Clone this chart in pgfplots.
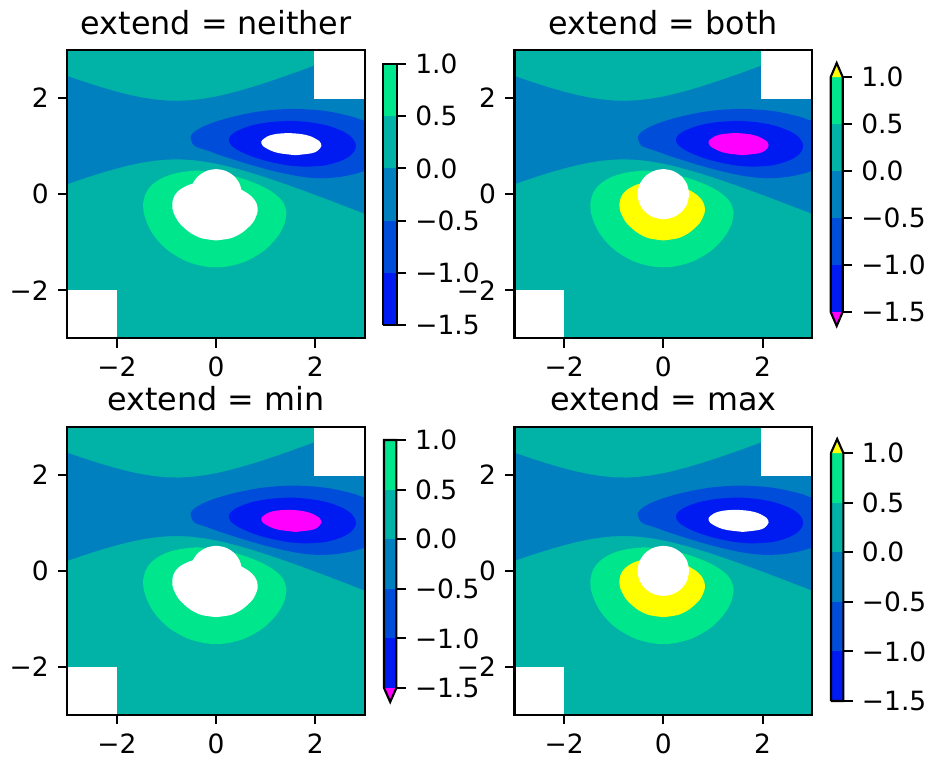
\documentclass[border=0pt]{standalone}
\usepackage{fontspec}
\setmainfont{DejaVu Sans}
\usepackage{pgfplots}
\usepackage{pgfplotstable}
\pgfplotsset{compat=1.18}
\definecolor{c1}{RGB}{0,26,242}
\definecolor{c2}{RGB}{0,77,217}
\definecolor{c3}{RGB}{0,128,191}
\definecolor{c4}{RGB}{0,179,166}
\definecolor{c5}{RGB}{0,230,140}
\definecolor{mag}{RGB}{255,0,255}
\definecolor{yel}{RGB}{255,255,0}

% Z = 0 band (Z<0 between lower and upper curve)
\pgfplotstableread{
x y
-3.25 0.1163
-3 0.2082
-2.75 0.2970
-2.5 0.3821
-2.25 0.4621
-2 0.5356
-1.75 0.6006
-1.5 0.6548
-1.25 0.6952
-1 0.7192
-0.75 0.7249
-0.5 0.7117
-0.25 0.6809
0 0.6346
0.25 0.5758
0.5 0.5071
0.75 0.4308
1 0.3486
1.25 0.2619
1.5 0.1717
1.75 0.0788
2 -0.0163
2.25 -0.1132
2.5 -0.2115
2.75 -0.3109
3 -0.4113
3.25 -0.5125
3.25 3.1792
3 3.0780
2.75 2.9776
2.5 2.8781
2.25 2.7798
2 2.6830
1.75 2.5879
1.5 2.4949
1.25 2.4048
1 2.3181
0.75 2.2359
0.5 2.1596
0.25 2.0909
0 2.0321
-0.25 1.9858
-0.5 1.9549
-0.75 1.9417
-1 1.9474
-1.25 1.9715
-1.5 2.0119
-1.75 2.0660
-2 2.1311
-2.25 2.2046
-2.5 2.2846
-2.75 2.3696
-3 2.4585
-3.25 2.5504
}\zzero

% Z <= -0.5
\pgfplotstableread{
x y
3.3 0.47
3.0 0.487
2.895 0.45
2.715 0.4
2.43 0.35
2.1 0.33
1.82 0.35
1.51 0.4
1.083 0.5
0.733 0.6
0.415 0.7
0.113 0.8
-0.155 0.9
-0.432 1.0
-0.495 1.1
-0.512 1.15
-0.516 1.2
-0.485 1.25
-0.438 1.3
-0.275 1.4
-0.033 1.5
0.292 1.6
0.745 1.7
1.11 1.75
1.55 1.774
2.03 1.75
2.376 1.7
2.784 1.6
3.0 1.522
3.3 1.50
}\negA

% Z <= -1
\pgfplotstableread{
x y
1.8 0.57
2.203 0.6
2.533 0.7
2.701 0.8
2.789 0.9
2.818 1.0
2.79 1.1
2.714 1.2
2.569 1.3
2.328 1.4
2.145 1.45
1.853 1.5
1.5 1.525
1.104 1.5
0.8 1.45
0.623 1.4
0.393 1.3
0.278 1.2
0.258 1.1
0.321 1.0
0.466 0.9
0.684 0.8
0.979 0.7
1.437 0.6
1.8 0.57
}\negB

% Z <= -1.5
\pgfplotstableread{
x y
1.6 0.81
1.922 0.85
2.042 0.9
2.121 1.0
2.083 1.1
1.912 1.2
1.713 1.25
1.45 1.27
1.194 1.25
1.029 1.2
0.913 1.1
0.945 1.0
1.117 0.9
1.282 0.85
1.6 0.81
}\negC

% Z >= 0.5
\pgfplotstableread{
x y
-0.38 0.49
-0.52 0.48
-0.738 0.45
-0.931 0.4
-1.057 0.35
-1.151 0.3
-1.285 0.2
-1.370 0.1
-1.425 0
-1.453 -0.1
-1.472 -0.2
-1.468 -0.3
-1.457 -0.4
-1.393 -0.6
-1.296 -0.8
-1.147 -1.0
-0.936 -1.2
-0.596 -1.4
-0.256 -1.5
0 -1.522
0.256 -1.5
0.596 -1.4
0.936 -1.2
1.145 -1.0
1.292 -0.8
1.382 -0.6
1.416 -0.4
1.40 -0.3
1.366 -0.2
1.297 -0.1
1.189 0
1.043 0.1
0.85 0.2
0.601 0.3
0.447 0.35
0.262 0.4
0.019 0.45
-0.25 0.48
-0.38 0.49
}\posA

% Z >= 1
\pgfplotstableread{
x y
0 -0.964
0.3 -0.916
0.525 -0.8
0.735 -0.6
0.828 -0.4
0.837 -0.3
0.816 -0.2
0.76 -0.1
0.657 0
0.495 0.1
0.3 0.2
0 0.26
-0.27 0.25
-0.53 0.2
-0.721 0.1
-0.819 0
-0.867 -0.1
-0.884 -0.2
-0.88 -0.3
-0.853 -0.4
-0.743 -0.6
-0.527 -0.8
-0.3 -0.916
0 -0.964
}\posB

% masked circle
\pgfplotstableread{
x y
0.52 0
0.4804 0.1990
0.3677 0.3677
0.1990 0.4804
0 0.52
-0.1990 0.4804
-0.3677 0.3677
-0.4804 0.1990
-0.52 0
-0.4804 -0.1990
-0.3677 -0.3677
-0.1990 -0.4804
0 -0.52
0.1990 -0.4804
0.3677 -0.3677
0.4804 -0.1990
0.52 0
}\tcirc

\pgfplotsset{
  F/.style={fill=#1, draw=none},
  main/.style={
    scale only axis, width=112.35pt, height=108.8pt, anchor=north west,
    xmin=-3, xmax=3, ymin=-3, ymax=3,
    xtick={-2,0,2}, ytick={-2,0,2},
    xticklabels={−2,0,2}, yticklabels={−2,0,2},
    tick align=outside, tick pos=left,
    major tick length=3.5pt,
    every tick/.style={black, line width=0.8pt},
    axis line style={line width=0.8pt},
    tick label style={font=\fontsize{10}{12}\selectfont},
    every axis title/.style={at={(0.5,1)}, anchor=base, yshift=6pt, inner sep=0pt, font=\fontsize{12}{14}\selectfont},
    axis on top,
  },
  cb/.style={
    scale only axis, anchor=north west, clip=false,
    xmin=0, xmax=1, ymin=-1.5, ymax=1,
    hide x axis,
    ytick={-1.5,-1,-0.5,0,0.5,1},
    yticklabels={−1.5,−1.0,−0.5,0.0,0.5,1.0},
    ytick pos=right, yticklabel pos=right,
    tick align=outside, major tick length=3.5pt,
    every tick/.style={black, line width=0.8pt},
    axis line style={line width=0.8pt},
    tick label style={font=\fontsize{10}{12}\selectfont},
  },
}

\newcommand{\panel}[5]{%
\begin{axis}[main, at={(#1,#2)}, title={#3}]
\addplot[F=c4] coordinates {(-3,-3) (3,-3) (3,3) (-3,3)};
\addplot[F=c3] table {\zzero};
\addplot[F=c2, smooth] table {\negA};
\addplot[F=c1, smooth] table {\negB};
\addplot[F=#4, smooth] table {\negC};
\addplot[F=c5, smooth] table {\posA};
\addplot[F=#5, smooth] table {\posB};
\addplot[F=white, smooth] table {\tcirc};
\addplot[F=white] coordinates {(-3.1,-3.1) (-2,-3.1) (-2,-2) (-3.1,-2)};
\addplot[F=white] coordinates {(1.975,1.975) (3.1,1.975) (3.1,3.1) (1.975,3.1)};
\end{axis}}

\newcommand{\bands}{%
\addplot[F=c1] coordinates {(0,-1.5) (1,-1.5) (1,-1) (0,-1)};
\addplot[F=c2] coordinates {(0,-1) (1,-1) (1,-0.5) (0,-0.5)};
\addplot[F=c3] coordinates {(0,-0.5) (1,-0.5) (1,0) (0,0)};
\addplot[F=c4] coordinates {(0,0) (1,0) (1,0.5) (0,0.5)};
\addplot[F=c5] coordinates {(0,0.5) (1,0.5) (1,1) (0,1)};}

\begin{document}
\begin{tikzpicture}
\path[use as bounding box] (0,0) rectangle (350.98pt,287.2pt);

\panel{25.40pt}{268.33pt}{extend = neither}{white}{white}
\panel{194.17pt}{268.33pt}{extend = both}{mag}{yel}
\panel{25.40pt}{126.16pt}{extend = min}{mag}{white}
\panel{194.17pt}{126.16pt}{extend = max}{white}{yel}

% colorbar: neither
\begin{axis}[cb, at={(144.66pt,263.05pt)}, width=5.06pt, height=98.5pt]
\bands
\addplot[black, line width=0.8pt, mark=none] coordinates {(0,-1.5) (0,1) (1,1) (1,-1.5) (0,-1.5)};
\end{axis}

% colorbar: both
\begin{axis}[cb, at={(313.5pt,258.14pt)}, width=4.53pt, height=88.69pt]
\bands
\addplot[F=yel] coordinates {(0,1) (1,1) (0.5,1.149)};
\addplot[F=mag] coordinates {(0,-1.5) (1,-1.5) (0.5,-1.649)};
\addplot[black, line width=0.8pt, mark=none] coordinates {(0,-1.5) (0,1) (0.5,1.149) (1,1) (1,-1.5) (0.5,-1.649) (0,-1.5)};
\end{axis}

% colorbar: min
\begin{axis}[cb, at={(144.92pt,121.15pt)}, width=4.68pt, height=93.6pt]
\bands
\addplot[F=mag] coordinates {(0,-1.5) (1,-1.5) (0.5,-1.641)};
\addplot[black, line width=0.8pt, mark=none] coordinates {(0,-1.5) (0,1) (1,1) (1,-1.5) (0.5,-1.641) (0,-1.5)};
\end{axis}

% colorbar: max
\begin{axis}[cb, at={(313.6pt,116.24pt)}, width=4.68pt, height=93.6pt]
\bands
\addplot[F=yel] coordinates {(0,1) (1,1) (0.5,1.141)};
\addplot[black, line width=0.8pt, mark=none] coordinates {(0,-1.5) (0,1) (0.5,1.141) (1,1) (1,-1.5) (0,-1.5)};
\end{axis}
\end{tikzpicture}
\end{document}
